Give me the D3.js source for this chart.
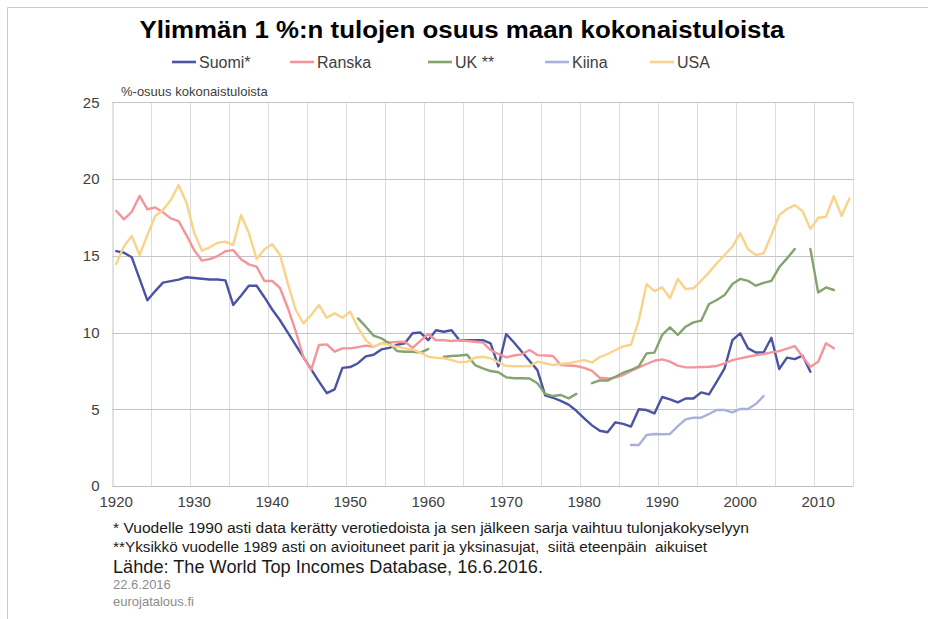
<!DOCTYPE html>
<html>
<head>
<meta charset="utf-8">
<script src="https://cdn.jsdelivr.net/npm/d3@7"></script>
<style>
body { margin: 0; background: #fff; }
svg { display: block; font-family: "Liberation Sans", Arial, sans-serif; }
.pre { white-space: pre; }
</style>
</head>
<body>
<script>
// data (share of top 1 %, %)
var firstYear = 1920, lastYear = 2014;
var xTickYears = [1920, 1930, 1940, 1950, 1960, 1970, 1980, 1990, 2000, 2010];
var yTicks = [0, 5, 10, 15, 20, 25];

var suomiStart = 1920;
var suomi = [15.3, 15.2, 14.9, 13.5, 12.1, 12.7, 13.25, 13.35, 13.45, 13.6,
    13.55, 13.5, 13.45, 13.45, 13.4, 11.8, 12.4, 13.05, 13.05, 12.3,
    11.5, 10.8, 10.0, 9.2, 8.4, 7.6, 6.8, 6.05, 6.3, 7.7,
    7.75, 8.0, 8.45, 8.55, 8.9, 9.0, 9.2, 9.3, 9.95, 10.0,
    9.5, 10.15, 10.05, 10.15, 9.5, 9.5, 9.5, 9.5, 9.3, 7.8,
    9.9, 9.35, 8.75, 8.15, 7.55, 5.9, 5.75, 5.55, 5.3, 4.9,
    4.4, 3.95, 3.6, 3.5, 4.15, 4.05, 3.87, 5.0, 4.95, 4.73,
    5.8, 5.65, 5.45, 5.7, 5.7, 6.1, 5.97, 6.8, 7.67, 9.5,
    9.95, 8.97, 8.7, 8.7, 9.66, 7.62, 8.36, 8.27, 8.49, 7.45];

var ranskaStart = 1920;
var ranska = [17.93, 17.37, 17.87, 18.9, 18.03, 18.15, 17.83, 17.44, 17.26, 16.35,
    15.37, 14.68, 14.79, 14.98, 15.3, 15.37, 14.77, 14.44, 14.29, 13.36,
    13.36, 12.9, 11.6, 10.1, 8.4, 7.56, 9.19, 9.23, 8.75, 8.97,
    8.97, 9.05, 9.15, 9.07, 9.3, 9.36, 9.38, 9.4, 9.0, 9.45,
    9.9, 9.5, 9.5, 9.45, 9.5, 9.45, 9.4, 9.35, 8.86, 8.6,
    8.38, 8.5, 8.58, 8.86, 8.53, 8.5, 8.47, 7.88, 7.85, 7.82,
    7.7, 7.5, 7.05, 7.0, 7.08, 7.23, 7.5, 7.73, 7.95, 8.16,
    8.25, 8.1, 7.84, 7.73, 7.73, 7.75, 7.77, 7.82, 7.99, 8.2,
    8.32, 8.42, 8.53, 8.6, 8.71, 8.79, 8.95, 9.12, 8.42, 7.77,
    8.1, 9.3, 8.97];

var ukStart = 1951;
var uk = [10.92, 10.38, 9.8, 9.62, 9.3, 8.8, 8.75, 8.75, 8.69,
    8.92, null, 8.42, 8.47, 8.5, 8.55, 7.88, 7.67, 7.49, 7.41,
    7.08, 7.02, 7.02, 7.0, 6.69, 6.0, 5.86, 5.93, 5.71, 6.0,
    null, 6.7, 6.88, 6.87, 7.12, 7.38, 7.56, 7.8, 8.64, 8.69,
    9.84, 10.34, 9.84, 10.38, 10.66, 10.77, 11.86, 12.12, 12.44, 13.16,
    13.49, 13.37, 13.05, 13.24, 13.37, 14.25, 14.83, 15.44, null, 15.44,
    12.6, 12.94, 12.77];

var kiinaStart = 1986;
var kiina = [2.67, 2.67, 3.32, 3.39, 3.37, 3.39, 3.9, 4.34, 4.45, 4.45,
    4.69, 4.95, 4.95, 4.8, 5.02, 5.02, 5.34, 5.86];

var usaStart = 1920;
var usa = [14.46, 15.63, 16.29, 15.05, 16.35, 17.59, 17.98, 18.63, 19.6, 18.48,
    16.5, 15.33, 15.55, 15.85, 15.92, 15.7, 17.65, 16.5, 14.79, 15.42,
    15.75, 15.05, 13.2, 11.5, 10.6, 11.14, 11.79, 10.96, 11.25, 10.96,
    11.36, 10.3, 9.5, 9.07, 9.3, 9.19, 9.07, 8.97, 8.9, 8.69,
    8.42, 8.36, 8.32, 8.2, 8.06, 8.1, 8.36, 8.42, 8.32, 8.06,
    7.82, 7.8, 7.8, 7.8, 8.1, 8.0, 7.88, 7.95, 8.0, 8.1,
    8.2, 8.05, 8.4, 8.6, 8.86, 9.1, 9.2, 10.8, 13.16, 12.7,
    12.94, 12.23, 13.49, 12.83, 12.88, 13.37, 13.92, 14.51, 15.05, 15.59,
    16.46, 15.42, 15.05, 15.16, 16.35, 17.65, 18.05, 18.3, 17.9, 16.74,
    17.48, 17.54, 18.89, 17.59, 18.74];

var seriesNames = ["Suomi*", "Ranska", "UK **", "Kiina", "USA"];
var seriesColors = ["#4b53a3", "#f4959b", "#83a46e", "#aab0de", "#fad38b"];
var seriesData = [[suomiStart, suomi], [ranskaStart, ranska], [ukStart, uk], [kiinaStart, kiina], [usaStart, usa]];

var width = 945, height = 619;
var svg = d3.select("body").append("svg").attr("width", width).attr("height", height);

// frame remains
svg.append("line").attr("x1", 7.5).attr("x2", 928).attr("y1", 7.5).attr("y2", 7.5).attr("stroke", "#c8c8c8");
svg.append("line").attr("x1", 7.5).attr("x2", 7.5).attr("y1", 7.5).attr("y2", height).attr("stroke", "#c8c8c8");

var years = d3.range(firstYear, lastYear + 1);
var x = d3.scaleBand().domain(years).range([112.3, 853.3]).padding(0);
var y = d3.scaleLinear().domain([0, 25]).range([486, 102.3]);
var bw = x.bandwidth();

// vertical gridlines every 5 years
var vGrid = years.filter(function (d) { return (d - firstYear) % 5 == 0 && d != firstYear; });
svg.append("g").selectAll("line").data(vGrid).enter().append("line")
    .attr("x1", function (d) { return Math.round(x(d)) + 0.5; })
    .attr("x2", function (d) { return Math.round(x(d)) + 0.5; })
    .attr("y1", y(25)).attr("y2", y(0))
    .attr("stroke", "#dcdcdc");
svg.append("line")
    .attr("x1", Math.round(x(lastYear) + bw) + 0.5).attr("x2", Math.round(x(lastYear) + bw) + 0.5)
    .attr("y1", y(25)).attr("y2", y(0)).attr("stroke", "#dcdcdc");

// horizontal gridlines
svg.append("g").selectAll("line").data(yTicks.slice(1)).enter().append("line")
    .attr("x1", x.range()[0]).attr("x2", x.range()[1])
    .attr("y1", function (d) { return Math.round(y(d)) + 0.5; })
    .attr("y2", function (d) { return Math.round(y(d)) + 0.5; })
    .attr("stroke", "#c4c4c4");

// axes
var xAxis = svg.append("g").attr("transform", "translate(0," + (Math.round(y(0)) + 0.5) + ")")
    .call(d3.axisBottom(x).tickValues(xTickYears).tickSize(0).tickPadding(10));
xAxis.select(".domain").attr("stroke", "#bfbfbf").attr("d", "M" + x.range()[0] + ",0H" + x.range()[1]);
xAxis.selectAll("text").attr("font-size", 15).attr("fill", "#404040")
    .attr("font-family", "Liberation Sans, Arial, sans-serif");

var yAxis = svg.append("g").attr("transform", "translate(" + (Math.round(x.range()[0]) + 0.5) + ",0)")
    .call(d3.axisLeft(y).tickValues(yTicks).tickSize(0).tickPadding(13));
yAxis.select(".domain").attr("stroke", "#c4c4c4");
yAxis.selectAll("text").attr("font-size", 15).attr("fill", "#404040")
    .attr("font-family", "Liberation Sans, Arial, sans-serif");

// lines
var line = d3.line()
    .defined(function (d) { return d.v != null; })
    .x(function (d) { return x(d.year) + bw / 2; })
    .y(function (d) { return y(d.v); });

for (let i = 0; i < seriesData.length; i++) {
    var start = seriesData[i][0];
    var pts = seriesData[i][1].map(function (v, j) { return { year: start + j, v: v }; });
    svg.append("path").datum(pts)
        .attr("fill", "none")
        .attr("stroke", seriesColors[i])
        .attr("stroke-width", 2.4)
        .attr("stroke-linejoin", "round")
        .attr("stroke-linecap", "round")
        .attr("d", line);
}

// title
svg.append("text").attr("x", 462).attr("y", 38).attr("text-anchor", "middle")
    .attr("font-size", 23).attr("font-weight", "bold").attr("fill", "#000")
    .attr("textLength", 645).attr("lengthAdjust", "spacingAndGlyphs")
    .text("Ylimmän 1 %:n tulojen osuus maan kokonaistuloista");

// legend
var legendX = [172, 290, 428, 545, 650];
var legend = svg.append("g").selectAll("g").data(seriesNames).enter().append("g")
    .attr("transform", function (d, i) { return "translate(" + legendX[i] + ",62)"; });
legend.append("line").attr("x1", 0).attr("x2", 24).attr("y1", 0).attr("y2", 0)
    .attr("stroke", function (d, i) { return seriesColors[i]; }).attr("stroke-width", 2.6);
legend.append("text").attr("x", 27).attr("y", 5.5).attr("font-size", 16).attr("fill", "#404040")
    .text(function (d) { return d; });

// y axis title
svg.append("text").attr("x", 121).attr("y", 96).attr("font-size", 13).attr("fill", "#404040")
    .text("%-osuus kokonaistuloista");

// footnotes
svg.append("text").attr("x", 113).attr("y", 533).attr("font-size", 14).attr("fill", "#1a1a1a")
    .attr("textLength", 636).attr("lengthAdjust", "spacingAndGlyphs")
    .text("* Vuodelle 1990 asti data kerätty verotiedoista ja sen jälkeen sarja vaihtuu tulonjakokyselyyn");
svg.append("text").attr("class", "pre").attr("x", 113).attr("y", 552).attr("font-size", 14).attr("fill", "#1a1a1a")
    .attr("textLength", 594).attr("lengthAdjust", "spacingAndGlyphs")
    .text("**Yksikkö vuodelle 1989 asti on avioituneet parit ja yksinasujat,  siitä eteenpäin  aikuiset");
svg.append("text").attr("x", 113).attr("y", 573).attr("font-size", 17.5).attr("fill", "#1a1a1a")
    .attr("textLength", 430).attr("lengthAdjust", "spacingAndGlyphs")
    .text("Lähde: The World Top Incomes Database, 16.6.2016.");
svg.append("text").attr("x", 113).attr("y", 589).attr("font-size", 13).attr("fill", "#8c8c8c")
    .text("22.6.2016");
svg.append("text").attr("x", 113).attr("y", 606).attr("font-size", 13).attr("fill", "#8c8c8c")
    .text("eurojatalous.fi");
</script>
</body>
</html>
